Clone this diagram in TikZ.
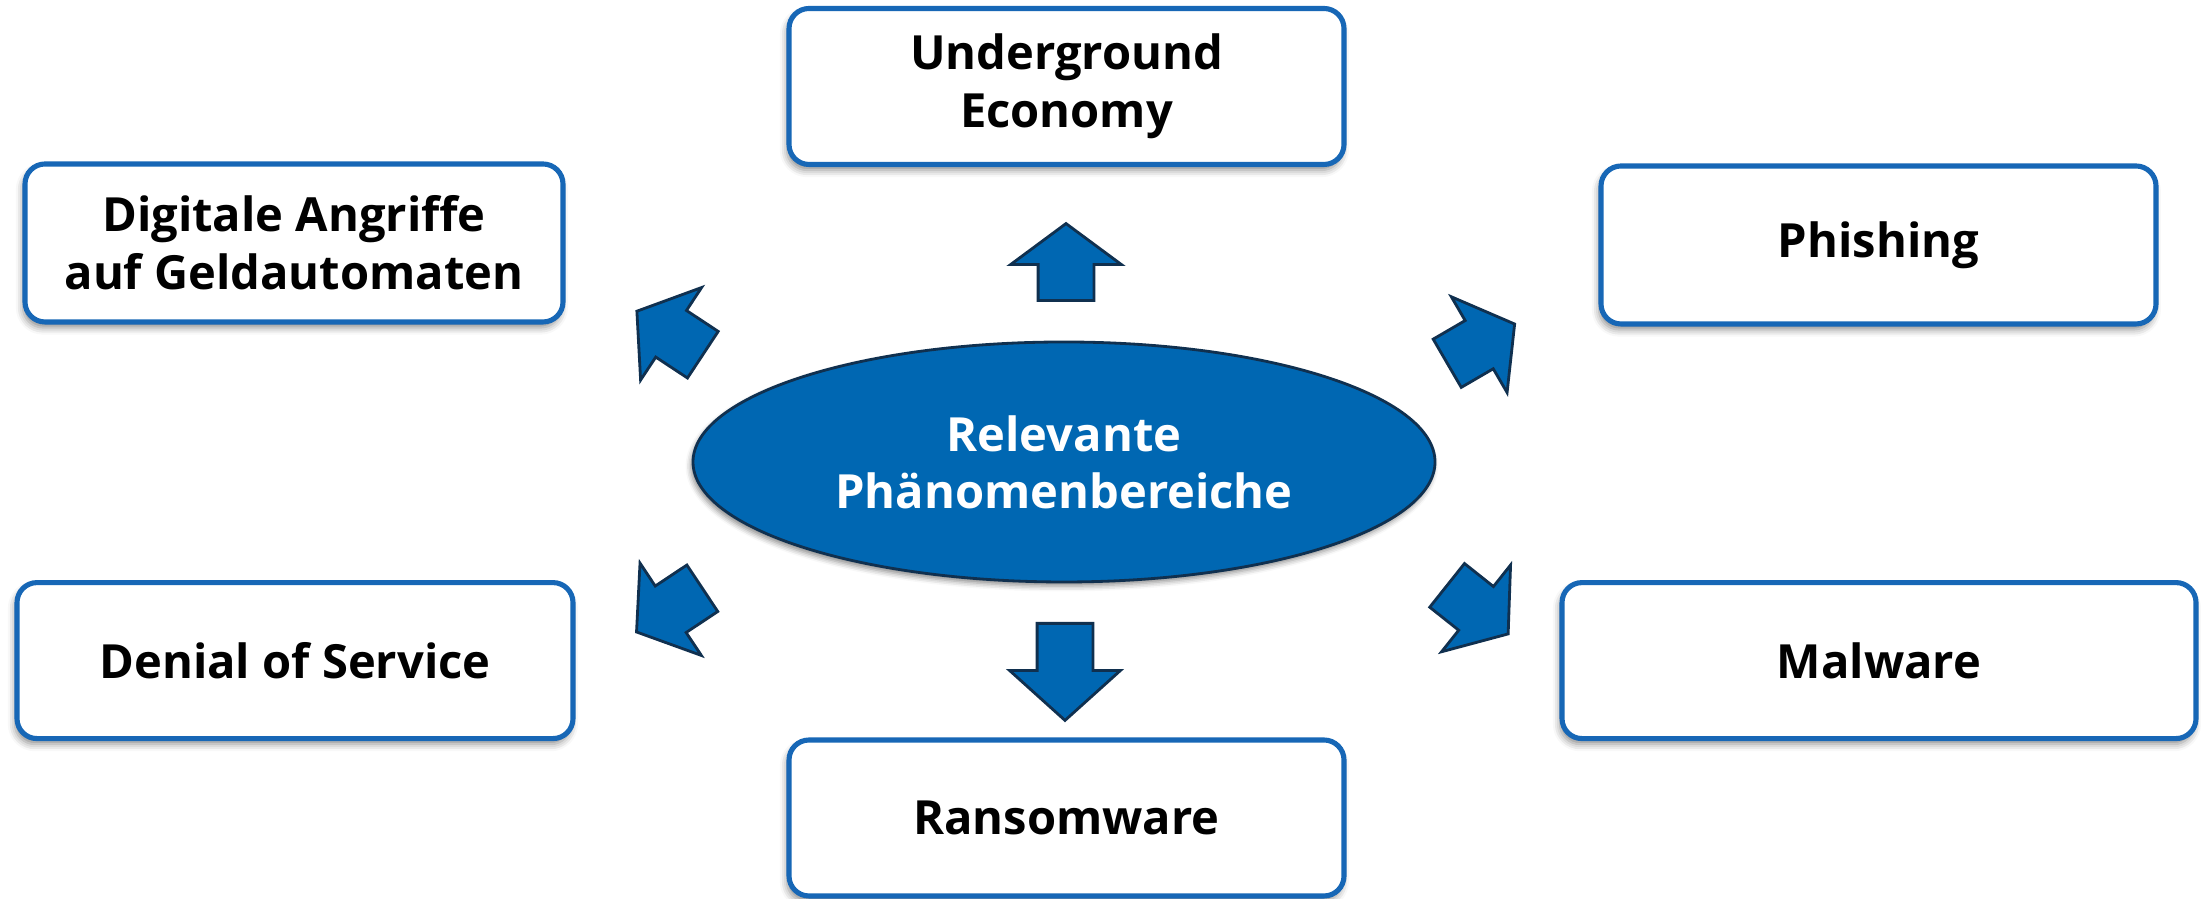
\documentclass[tikz,border=0pt]{standalone}
\usepackage{fontspec}
\setsansfont{Open Sans}
\usetikzlibrary{shapes.geometric, shapes.arrows, shadows.blur}
\definecolor{boxblue}{HTML}{1767B6}
\definecolor{fillblue}{HTML}{0067B2}
\definecolor{dknavy}{HTML}{10304F}

\tikzset{
  topic/.style={draw=boxblue, line width=1.45pt, fill=white, rounded corners=5.7pt,
    minimum width=5.55cm, minimum height=1.56cm, align=center, inner sep=0pt,
    font=\sffamily\bfseries\fontsize{13.4}{16.6}\selectfont,
    blur shadow={shadow xshift=-0.6pt, shadow yshift=-1.6pt,
      shadow blur radius=2pt, shadow opacity=45}},
  hub/.style={ellipse, draw=dknavy, line width=0.8pt, fill=fillblue, text=white,
    minimum width=7.42cm, minimum height=2.40cm, align=center, inner sep=0pt,
    font=\sffamily\bfseries\fontsize{13.4}{16.2}\selectfont,
    blur shadow={shadow xshift=-0.6pt, shadow yshift=-1.2pt,
      shadow blur radius=1.5pt, shadow opacity=45}},
  blockarrow/.style={single arrow, draw=dknavy, line width=0.8pt, fill=fillblue,
    inner xsep=0pt, inner ysep=0.265cm, minimum height=0.78cm,
    single arrow head extend=0.275cm, single arrow tip angle=107, anchor=tail}
}

\begin{document}
\begin{tikzpicture}

\useasboundingbox (0,0) rectangle (22.06,8.99);

% Centre
\node[hub] (core) at (10.64,4.37) {Relevante\\Phänomenbereiche};

% Topics
\node[topic] (econ) at (10.665,8.125) {Underground\\Economy};
\node[topic, minimum width=5.38cm, minimum height=1.58cm] (atm) at (2.94,6.56)
  {Digitale Angriffe\\auf Geldautomaten};
\node[topic, minimum height=1.58cm] (phish) at (18.785,6.54) {Phishing};
\node[topic, minimum width=5.56cm] (dos) at (2.95,2.384) {Denial of Service};
\node[topic, minimum width=6.34cm] (malw) at (18.79,2.384) {Malware};
\node[topic] (ransom) at (10.665,0.81) {Ransomware};

% Block arrows (tail point, direction)
\node[blockarrow, rotate=90, minimum height=0.77cm] (arrecon) at (10.66,5.97) {};
\node[blockarrow, rotate=-90, minimum height=0.97cm, single arrow tip angle=96]
  (arrransom) at (10.65,2.77) {};
\node[blockarrow, rotate=146.6, minimum height=0.79cm] (arratm) at (7.04,5.435) {};
\node[blockarrow, rotate=30.2] (arrphish) at (14.46,5.35) {};
\node[blockarrow, rotate=213.6, minimum height=0.79cm] (arrdos) at (7.035,3.115) {};
\node[blockarrow, rotate=-38.5] (arrmalw) at (14.46,3.145) {};

\end{tikzpicture}
\end{document}
